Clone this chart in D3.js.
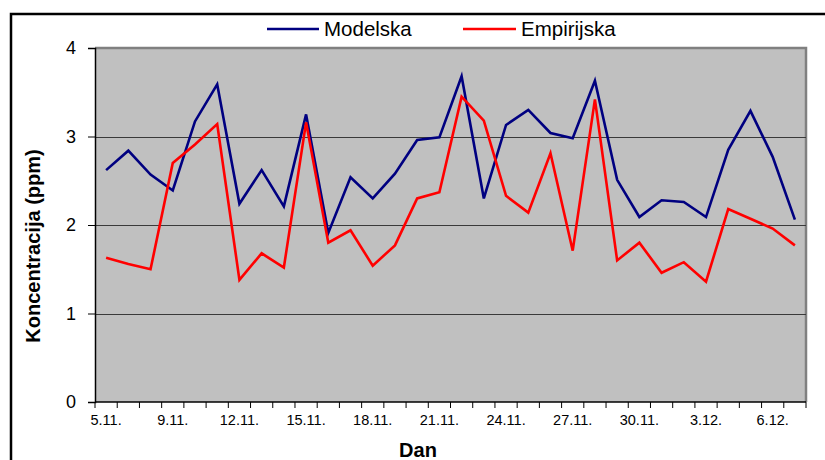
<!DOCTYPE html>
<html>
<head>
<meta charset="utf-8">
<script src="https://cdn.jsdelivr.net/npm/d3@7"></script>
<style>
  html, body { margin: 0; padding: 0; background: #fff; }
  svg text { font-family: "Liberation Sans", Arial, sans-serif; fill: #000; }
</style>
</head>
<body>
<svg id="chart" width="825" height="460"></svg>
<script>
// Daily categories (one day is absent between 5.11. and 9.11.)
const days = [
  "5.11.", "7.11.", "8.11.", "9.11.", "10.11.", "11.11.", "12.11.", "13.11.",
  "14.11.", "15.11.", "16.11.", "17.11.", "18.11.", "19.11.", "20.11.", "21.11.",
  "22.11.", "23.11.", "24.11.", "25.11.", "26.11.", "27.11.", "28.11.", "29.11.",
  "30.11.", "1.12.", "2.12.", "3.12.", "4.12.", "5.12.", "6.12.", "7.12."
];
const modelska = [
  2.62, 2.84, 2.57, 2.39, 3.17, 3.59, 2.24, 2.62, 2.21, 3.25,
  1.91, 2.54, 2.30, 2.58, 2.96, 2.99, 3.68, 2.30, 3.13, 3.30,
  3.04, 2.98, 3.63, 2.51, 2.09, 2.28, 2.26, 2.09, 2.85, 3.29,
  2.77, 2.06
];
const empirijska = [
  1.63, 1.56, 1.50, 2.70, 2.91, 3.14, 1.38, 1.68, 1.52, 3.16,
  1.80, 1.94, 1.54, 1.77, 2.30, 2.37, 3.45, 3.18, 2.33, 2.14,
  2.81, 1.71, 3.42, 1.60, 1.80, 1.46, 1.58, 1.36, 2.18, 2.07,
  1.96, 1.77
];
const yTicks = [0, 1, 2, 3, 4];
const labelEvery = 3;
const seriesNames = ["Modelska", "Empirijska"];
const seriesColors = ["#000080", "#ff0000"];

const svg = d3.select("#chart");

// Outer chart frame (runs off the right and bottom edges)
svg.append("rect")
  .attr("x", 11).attr("y", 14)
  .attr("width", 840).attr("height", 480)
  .attr("fill", "#fff")
  .attr("stroke", "#000").attr("stroke-width", 2.5);

const plot = { left: 95, right: 806, top: 48, bottom: 402 };

const x = d3.scaleBand().domain(days).range([plot.left, plot.right]).padding(0);
const y = d3.scaleLinear().domain([0, 4]).range([plot.bottom, plot.top]);
const cx = d => x(d) + x.bandwidth() / 2;

// Plot area
svg.append("rect")
  .attr("x", plot.left).attr("y", plot.top)
  .attr("width", plot.right - plot.left).attr("height", plot.bottom - plot.top)
  .attr("fill", "#c0c0c0");
svg.append("path")
  .attr("d", `M${plot.left},${plot.top}H${plot.right}V${plot.bottom}`)
  .attr("fill", "none").attr("stroke", "#808080").attr("stroke-width", 2.5);

// Horizontal gridlines
svg.append("g")
  .selectAll("line")
  .data(yTicks.filter(t => t > 0 && t < 4))
  .join("line")
  .attr("x1", plot.left).attr("x2", plot.right)
  .attr("y1", d => Math.round(y(d)) + 0.5).attr("y2", d => Math.round(y(d)) + 0.5)
  .attr("stroke", "#3a3a3a").attr("stroke-width", 1);

// Y axis
const yAxis = svg.append("g")
  .attr("transform", `translate(${plot.left},0)`)
  .call(d3.axisLeft(y).tickValues(yTicks).tickFormat(d3.format("d")).tickSize(7).tickPadding(12));
yAxis.select(".domain").attr("stroke", "#000").attr("stroke-width", 1.5);
yAxis.selectAll(".tick line").attr("stroke", "#000");
yAxis.selectAll(".tick text")
  .style("font-family", "'Liberation Sans', Arial, sans-serif")
  .attr("font-size", 18).attr("fill", "#000");

// X axis: tick marks at every category boundary, labels every third day
const xAxis = svg.append("g")
  .attr("transform", `translate(0,${plot.bottom})`)
  .call(d3.axisBottom(x)
    .tickValues(days.filter((d, i) => i % labelEvery === 0))
    .tickSize(0).tickPadding(13));
xAxis.select(".domain").remove();
xAxis.selectAll(".tick text")
  .style("font-family", "'Liberation Sans', Arial, sans-serif")
  .attr("font-size", 14.5).attr("fill", "#000");

const boundaries = days.map(d => x(d)).concat([x(days[days.length - 1]) + x.bandwidth()]);
xAxis.append("g")
  .selectAll("line")
  .data(boundaries)
  .join("line")
  .attr("x1", d => d).attr("x2", d => d)
  .attr("y1", 0).attr("y2", 6)
  .attr("stroke", "#000").attr("stroke-width", 1);
xAxis.append("line")
  .attr("x1", plot.left).attr("x2", plot.right)
  .attr("y1", 0).attr("y2", 0)
  .attr("stroke", "#000").attr("stroke-width", 1.5);

// Axis titles
svg.append("text")
  .attr("x", 418).attr("y", 457)
  .attr("text-anchor", "middle")
  .attr("font-size", 20).attr("font-weight", "bold")
  .text("Dan");
svg.append("text")
  .attr("transform", "translate(40,246) rotate(-90)")
  .attr("text-anchor", "middle")
  .attr("font-size", 20).attr("font-weight", "bold")
  .text("Koncentracija (ppm)");

// Series lines
const line = d3.line().x((v, i) => cx(days[i])).y(v => y(v));
[modelska, empirijska].forEach((vals, k) => {
  svg.append("path")
    .datum(vals)
    .attr("d", line)
    .attr("fill", "none")
    .attr("stroke", seriesColors[k])
    .attr("stroke-width", 2.6)
    .attr("stroke-linejoin", "miter");
});

// Legend
const legendPos = [{ x1: 267, x2: 319, tx: 324 }, { x1: 463, x2: 516, tx: 521 }];
seriesNames.forEach((name, k) => {
  const p = legendPos[k];
  svg.append("line")
    .attr("x1", p.x1).attr("x2", p.x2).attr("y1", 29).attr("y2", 29)
    .attr("stroke", seriesColors[k]).attr("stroke-width", 2.6);
  svg.append("text")
    .attr("x", p.tx).attr("y", 36)
    .attr("font-size", 20.5)
    .text(name);
});
</script>
</body>
</html>
